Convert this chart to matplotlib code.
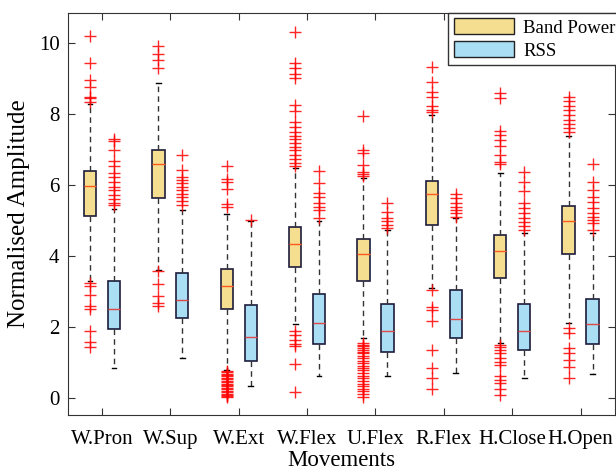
import numpy as np
import matplotlib.pyplot as plt
from matplotlib.patches import Patch

plt.rcParams['font.family'] = ['Liberation Serif', 'DejaVu Serif']

movements = ['W.Pron', 'W.Sup', 'W.Ext', 'W.Flex', 'U.Flex', 'R.Flex', 'H.Close', 'H.Open']

# Band Power boxes
bp_q1 = [5.13, 5.62, 2.50, 3.68, 3.30, 4.86, 3.37, 4.05]
bp_med = [5.96, 6.58, 3.15, 4.33, 4.05, 5.75, 4.14, 4.97]
bp_q3 = [6.39, 6.97, 3.62, 4.81, 4.47, 6.12, 4.58, 5.41]
bp_lo = [3.30, 3.60, 0.79, 2.09, 1.68, 3.09, 1.54, 2.10]
bp_hi = [8.27, 8.88, 5.17, 6.47, 6.19, 7.97, 6.33, 7.38]
bp_fliers = [
    [10.2, 9.44, 8.95, 8.75, 8.49, 8.45, 8.34, 3.24, 3.14, 2.9, 2.59, 2.5, 1.87, 1.56, 1.42],
    [9.9, 9.68, 9.51, 9.28, 3.58, 3.22, 2.88, 2.68, 2.59],
    [6.52, 6.16, 6.07, 5.89, 5.46, 5.37,
     0.76, 0.72, 0.68, 0.64, 0.6, 0.56, 0.52, 0.48, 0.44, 0.4, 0.36, 0.32, 0.28,
     0.24, 0.2, 0.16, 0.12, 0.08, 0.04, 0.02],
    [10.32, 9.43, 9.29, 9.13, 9.0, 8.25, 8.07, 7.78, 7.64, 7.5, 7.38, 7.29, 7.19,
     7.08, 6.97, 6.85, 6.73, 6.62, 6.54, 1.87, 1.78, 1.64, 1.52, 1.46, 0.96, 0.15],
    [7.94, 6.99, 6.91, 6.56, 6.37, 6.31, 6.25,
     1.55, 1.5, 1.45, 1.4, 1.35, 1.3, 1.25, 1.18, 1.12, 1.05, 0.98, 0.9, 0.85,
     0.78, 0.7, 0.62, 0.55, 0.48, 0.4, 0.32, 0.25, 0.18, 0.1, 0.02],
    [9.33, 8.91, 8.63, 8.49, 8.21, 8.12, 8.04,
     3.04, 2.55, 2.48, 2.15, 1.35, 0.85, 0.55, 0.24],
    [8.58, 8.46, 7.53, 7.41, 7.27, 7.1, 6.85, 6.64, 6.58,
     1.5, 1.42, 1.35, 1.25, 1.12, 1.02, 0.93, 0.6, 0.51, 0.41, 0.24, 0.08],
    [8.47, 8.35, 8.23, 8.12, 7.97, 7.83, 7.72, 7.6, 7.49,
     1.96, 1.82, 1.4, 1.26, 1.07, 0.88, 0.55],
]

# RSS boxes
rss_q1 = [1.93, 2.24, 1.04, 1.52, 1.28, 1.68, 1.35, 1.52]
rss_med = [2.50, 2.75, 1.71, 2.10, 1.88, 2.23, 1.88, 2.08]
rss_q3 = [3.30, 3.51, 2.62, 2.92, 2.65, 3.03, 2.65, 2.78]
rss_lo = [0.85, 1.12, 0.33, 0.62, 0.62, 0.71, 0.57, 0.67]
rss_hi = [5.32, 5.28, 4.98, 4.97, 4.73, 5.06, 4.64, 4.64]
rss_fliers = [
    [7.29, 7.24, 6.99, 6.66, 6.54, 6.33, 6.23, 6.09, 5.95, 5.86, 5.72, 5.6, 5.5, 5.43],
    [6.85, 6.42, 6.23, 6.14, 6.05, 5.95, 5.86, 5.75, 5.66, 5.55, 5.44],
    [5.0],
    [6.4, 6.05, 5.78, 5.67, 5.48, 5.39, 5.3, 5.07],
    [5.48, 5.23, 5.07, 4.98, 4.88, 4.79],
    [5.74, 5.62, 5.48, 5.39, 5.3, 5.2, 5.1],
    [6.35, 6.07, 5.82, 5.48, 5.34, 5.2, 5.07, 4.95, 4.83, 4.74],
    [6.59, 6.07, 5.86, 5.67, 5.53, 5.34, 5.2, 5.1, 5.01, 4.92, 4.74],
]

yellow = '#f5de90'
blue = '#a9def4'

fig = plt.figure(figsize=(6.16, 4.73), dpi=100)
ax = fig.add_axes([0.110, 0.123, 0.888, 0.850])

x = np.arange(1, len(movements) + 1)


def draw(q1, med, q3, lo, hi, fl, pos, face, medcol):
    stats = []
    for i in range(len(q1)):
        stats.append(dict(q1=q1[i], med=med[i], q3=q3[i], whislo=lo[i], whishi=hi[i], fliers=fl[i]))
    ax.bxp(stats, positions=pos, widths=0.18, patch_artist=True, showfliers=True,
           boxprops=dict(facecolor=face, edgecolor='#1c1c3c', linewidth=1.2),
           medianprops=dict(color=medcol, linewidth=1),
           whiskerprops=dict(color='#333333', linestyle=(0, (4, 3)), linewidth=1),
           capprops=dict(color='black', linewidth=1),
           capwidths=0.07,
           flierprops=dict(marker='+', markeredgecolor='red', markersize=8, markeredgewidth=1, alpha=0.85))


draw(bp_q1, bp_med, bp_q3, bp_lo, bp_hi, bp_fliers, x - 0.175, yellow, '#ff5a1e')
draw(rss_q1, rss_med, rss_q3, rss_lo, rss_hi, rss_fliers, x + 0.175, blue, '#e04848')

ax.set_xlim(0.5, 8.5)
ax.set_ylim(-0.48, 10.85)
ax.set_xticks(x)
ax.set_xticklabels(movements, fontsize=15)
ax.set_yticks([0, 2, 4, 6, 8, 10])
ax.tick_params(axis='y', labelsize=15, pad=6)
ax.tick_params(direction='in', top=True, right=True, length=5, color='#333333')
ax.tick_params(axis='x', pad=11)
for s in ax.spines.values():
    s.set_color('#333333')
ax.set_xlabel('Movements', fontsize=16.5, labelpad=1)
ax.set_ylabel('Normalised Amplitude', fontsize=18, labelpad=6)

handles = [Patch(facecolor=yellow, edgecolor='#222222', label='Band Power'),
           Patch(facecolor=blue, edgecolor='#222222', label='RSS')]
leg = ax.legend(handles=handles, loc='upper right', bbox_to_anchor=(1.012, 1.0),
                fontsize=13.5, fancybox=False,
                framealpha=1, edgecolor='#333333', handlelength=3.2, handleheight=0.9,
                handletextpad=0.5, borderpad=0.3, labelspacing=0.25, borderaxespad=0)
leg.get_frame().set_linewidth(1)

plt.savefig('out.png', dpi=100)
